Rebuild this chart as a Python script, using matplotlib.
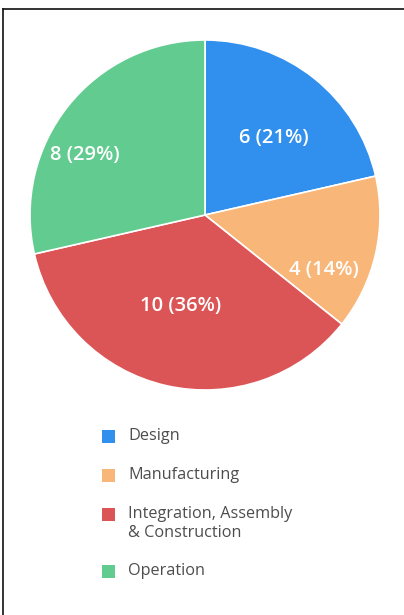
import numpy as np
import matplotlib
matplotlib.use("Agg")
import matplotlib.pyplot as plt
from matplotlib.patches import Rectangle
from matplotlib.lines import Line2D
from matplotlib.transforms import Bbox

categories = ["Design", "Manufacturing", "Integration, Assembly\n& Construction", "Operation"]
counts = [6, 4, 10, 8]
colors = ["#3190ee", "#f9b679", "#dc5556", "#62cb8f"]

W, H = 404, 615
fig = plt.figure(figsize=(W / 100, H / 100), dpi=100)
fig.patch.set_facecolor("white")

# pie axes: centre (205, 215) px, radius 175 px
cx, cy, r = 205, 215, 175
ax = fig.add_axes([(cx - r) / W, 1 - (cy + r) / H, 2 * r / W, 2 * r / H])
wedges, _ = ax.pie(counts, colors=colors, startangle=90, counterclock=False,
                   radius=1.0, wedgeprops=dict(edgecolor="white", linewidth=1.2))
ax.set_xlim(-1, 1)
ax.set_ylim(-1, 1)
ax.set_aspect("equal")
ax.axis("off")

total = sum(counts)
# label placement (radius fraction, angle shift in degrees) per slice
label_place = [(0.59, -3), (0.75, -12), (0.54, -2), (0.77, 12)]
for w, n, (rf, shift) in zip(wedges, counts, label_place):
    mid = np.deg2rad((w.theta1 + w.theta2) / 2 + shift)
    pct = round(100 * n / total)
    ax.text(rf * np.cos(mid), rf * np.sin(mid), f"{n} ({pct}%)",
            ha="center", va="center", color="white", fontsize=14.5,
            fontweight="semibold", family="Open Sans")

# legend
rows_y = [436, 475, 514, 571]
line_step = 19
clip = Bbox.from_extents(0, 0, 300, H)
for lbl, col, y in zip(categories, colors, rows_y):
    fig.add_artist(Rectangle((102 / W, 1 - (y + 7) / H), 13 / W, 13 / H,
                             transform=fig.transFigure, facecolor=col,
                             edgecolor="none"))
    for i, part in enumerate(lbl.split("\n")):
        t = fig.text(128 / W, 1 - (y + i * line_step) / H, part, ha="left",
                     va="center", fontsize=11.7, color="#4d4d4d",
                     family="Open Sans")
        t.set_clip_box(clip)
        t.set_clip_on(True)

# frame lines along the top and left edge
fig.add_artist(Line2D([3 / W, 1], [1 - 9 / H, 1 - 9 / H], transform=fig.transFigure,
                      color="#111111", linewidth=1.2))
fig.add_artist(Line2D([3 / W, 3 / W], [0, 1 - 9 / H], transform=fig.transFigure,
                      color="#111111", linewidth=1.2))

fig.savefig("out.png", dpi=100, facecolor="white")
